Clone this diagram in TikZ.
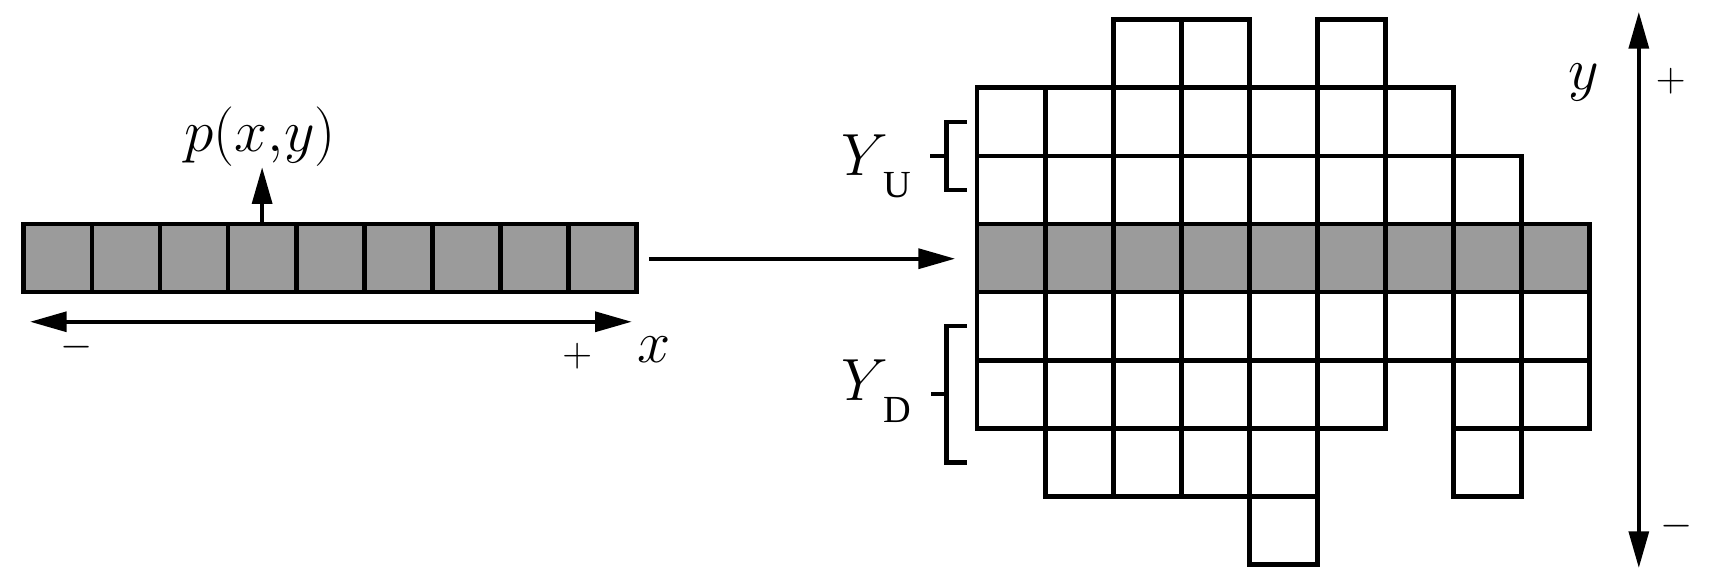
\documentclass[tikz,border=0pt]{standalone}
\usepackage{fontspec}
\setmainfont{Liberation Serif}
\usetikzlibrary{arrows.meta}
\definecolor{cellgray}{RGB}{155,155,155}
\tikzset{
	cell/.style={draw, line width=2pt},
	graycell/.style={cell, fill=cellgray},
	axis/.style={line width=1.7pt},
	bracket/.style={line width=1.9pt},
	lbl/.style={inner sep=0pt, font=\fontsize{29.5}{32}\selectfont},
	sgn/.style={inner sep=0pt, font=\fontsize{19}{21}\selectfont}
}
\newcommand{\subY}[1]{$Y$\kern-0.06cm\raisebox{-0.323cm}{\fontsize{16}{17}\selectfont #1}}

\begin{document}
\begin{tikzpicture}[>={Triangle[length=0.54cm, width=0.29cm]}]
	\useasboundingbox (-14.35, -4.32) rectangle (10.78, 4.29);

	% left row of pixels
	\foreach \c in {-14,...,-6}
		\draw[graycell] (\c, 0) rectangle ++(1, 1);

	% p(x,y) above the fourth pixel
	\coordinate (pcell) at (-10.5, 1);
	\node[lbl, anchor=base] (plabel) at (-10.53, 2.06) {$p(x{,}y)$};
	\draw[axis, ->] (pcell) -- (pcell |- plabel.south);

	% x-axis
	\coordinate (xminus) at (-13.91, -0.436);
	\coordinate (xplus) at (-5.07, -0.436);
	\draw[axis, <->] (xminus) -- (xplus);
	\node[sgn] (xm) at (-13.23, -0.81) {$-$};
	\node[sgn] (xp) at (-5.87, -0.94) {$+$};
	\node[lbl, anchor=base] (xl) at (-4.74, -1.04) {$x$};

	% mapping arrow
	\coordinate (stripE) at (-5, 0.49);
	\coordinate (gridW) at (0, 0.49);
	\draw[axis, ->, shorten <=0.18cm, shorten >=0.32cm] (stripE) -- (gridW);

	% gray row first, then the white cells round it
	\foreach \c in {0,...,8}
		\draw[graycell] (\c, 0) rectangle ++(1, 1);
	\foreach \r/\cols in {3/{2,3,5}, 2/{0,...,6}, 1/{0,...,7}, -1/{0,...,8}, -2/{0,1,2,3,4,5,7,8}, -3/{1,2,3,4,7}, -4/{4}}
		\foreach \c in \cols
			\draw[cell] (\c, \r) rectangle ++(1, 1);

	% Y_U and Y_D brackets
	\draw[bracket] (-0.15, 2.5) -- (-0.445, 2.5) -- (-0.445, 1.5) -- (-0.15, 1.5);
	\draw[bracket] (-0.445, 2) -- (-0.69, 2);
	\draw[bracket] (-0.15, -0.5) -- (-0.445, -0.5) -- (-0.445, -2.5) -- (-0.15, -2.5);
	\draw[bracket] (-0.445, -1.5) -- (-0.67, -1.5);
	\node[lbl, anchor=base] (yu) at (-1.48, 1.718) {\subY{U}};
	\node[lbl, anchor=base] (yd) at (-1.48, -1.586) {\subY{D}};

	% y-axis
	\coordinate (yplus) at (9.72, 4.116);
	\coordinate (yminus) at (9.72, -4.053);
	\draw[axis, <->] (yminus) -- (yplus);
	\node[lbl, anchor=base] (yl) at (8.91, 2.97) {$y$};
	\node[sgn] (yp) at (10.19, 3.10) {$+$};
	\node[sgn] (ym) at (10.28, -3.44) {$-$};
\end{tikzpicture}
\end{document}
